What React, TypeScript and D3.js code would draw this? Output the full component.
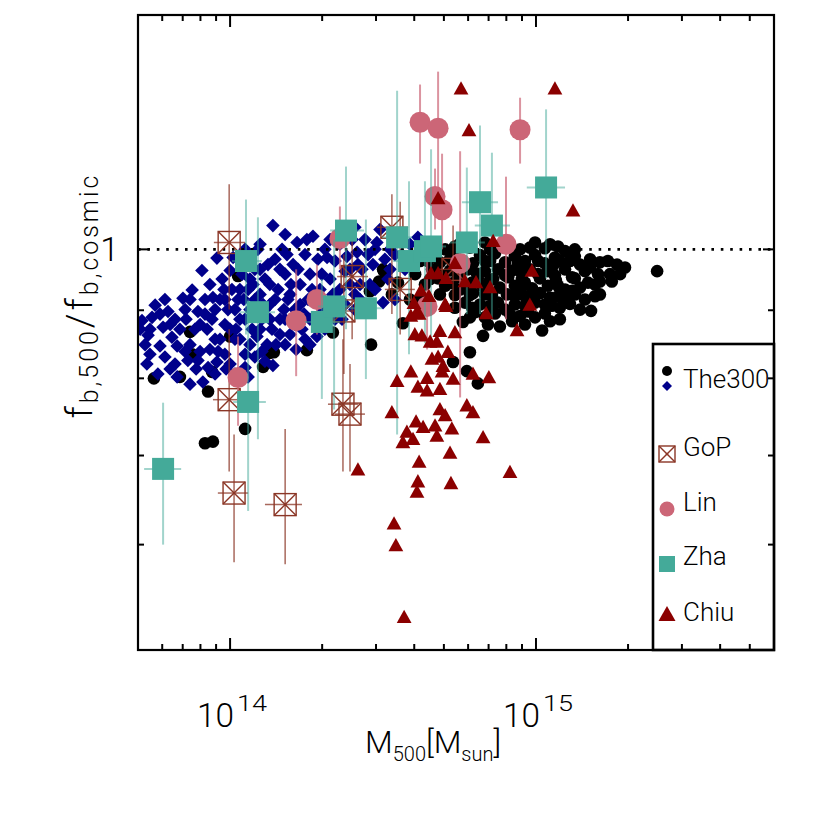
import React from 'react';
import * as d3 from 'd3';

// ---------------- DATA (log10 M500 [Msun], f_b,500 / f_b,cosmic) ----------------
const the300Circles: [number, number][] = [
  [13.751, 0.800], [13.836, 0.802], [13.876, 0.834], [13.869, 0.867], [13.928, 0.782], [13.918, 0.715],
  [13.944, 0.717], [13.941, 0.809], [14.0, 0.860], [14.026, 0.955], [14.049, 0.733], [14.108, 0.816],
  [14.13, 0.836], [14.143, 0.837], [14.251, 0.840], [14.336, 0.866], [14.461, 0.848], [14.5, 0.966],
  [14.487, 0.946], [14.549, 0.944], [14.457, 0.930], [14.503, 0.963], [14.565, 0.880], [14.588, 0.917],
  [14.621, 0.980], [14.637, 0.941],
  [14.703, 1.0], [14.784, 1.003], [14.882, 1.005], [14.948, 1.0], [15.029, 1.002], [15.095, 0.997],
  [14.67, 0.990], [14.735, 0.991], [14.817, 0.990], [14.866, 0.993], [14.931, 0.988], [14.997, 0.990],
  [15.062, 0.986], [15.127, 0.988], [15.177, 0.983],
  [14.686, 0.978], [14.758, 0.980], [14.794, 0.976], [14.85, 0.980], [14.899, 0.978], [14.964, 0.980],
  [15.029, 0.976], [15.078, 0.980], [15.144, 0.974], [15.209, 0.978], [15.265, 0.974],
  [14.66, 0.966], [14.719, 0.964], [14.778, 0.966], [14.833, 0.963], [14.876, 0.966], [14.922, 0.964],
  [14.98, 0.966], [15.039, 0.963], [15.095, 0.966], [15.16, 0.963], [15.203, 0.958],
  [14.68, 0.951], [14.745, 0.953], [14.81, 0.951], [14.86, 0.950], [14.909, 0.953], [14.954, 0.950],
  [15.013, 0.951], [15.065, 0.948], [15.118, 0.953], [15.17, 0.944], [15.396, 0.963],
  [14.703, 0.939], [14.768, 0.936], [14.824, 0.939], [14.882, 0.936], [14.931, 0.939], [14.987, 0.935],
  [15.039, 0.939], [15.095, 0.933], [15.144, 0.936], [15.209, 0.946],
  [14.735, 0.924], [14.794, 0.927], [14.856, 0.924], [14.905, 0.925], [14.964, 0.922], [15.013, 0.927],
  [15.072, 0.922], [15.127, 0.925], [15.193, 0.922],
  [14.768, 0.912], [14.817, 0.909], [14.876, 0.912], [14.931, 0.909], [14.997, 0.912], [15.052, 0.907],
  [15.111, 0.910], [15.18, 0.899],
  [14.8, 0.897], [14.866, 0.895], [14.915, 0.894], [14.974, 0.898], [15.029, 0.895], [15.078, 0.886],
  [14.761, 0.882], [14.843, 0.878], [14.882, 0.875], [14.964, 0.878], [15.02, 0.869], [14.948, 0.891],
  [14.827, 0.861], [14.784, 0.837], [14.729, 0.823], [14.774, 0.810], [14.81, 0.793],
  [14.735, 1.005], [14.915, 1.009], [14.98, 1.003], [15.046, 1.009], [14.85, 1.0], [14.752, 0.933],
  [14.948, 0.933], [15.16, 0.917], [15.242, 0.958], [15.291, 0.969],
  [14.752, 1.010], [14.833, 1.012], [14.997, 1.012], [15.072, 1.005], [15.127, 1.0], [14.719, 0.983],
  [14.833, 0.980], [14.941, 0.976], [15.007, 0.980], [15.056, 0.973], [15.111, 0.980], [15.177, 0.969],
  [15.235, 0.980], [14.686, 0.958], [14.752, 0.961], [14.807, 0.959], [14.899, 0.956], [14.948, 0.963],
  [15.007, 0.958], [15.062, 0.956], [15.127, 0.951], [15.193, 0.941], [15.248, 0.946], [14.726, 0.943],
  [14.791, 0.944], [14.85, 0.948], [14.964, 0.944], [15.072, 0.939], [15.118, 0.931], [14.784, 0.924],
  [14.833, 0.925], [14.931, 0.922], [14.987, 0.917], [15.046, 0.920], [15.095, 0.917], [14.791, 0.904],
  [14.85, 0.907], [14.899, 0.901], [14.964, 0.907], [15.029, 0.909], [15.078, 0.904], [15.144, 0.901],
  [14.833, 0.889], [14.997, 0.889], [15.046, 0.883], [14.922, 0.883], [14.784, 0.889], [14.735, 0.904],
  [14.686, 0.925], [14.654, 0.950], [14.605, 0.958], [14.572, 0.980], [14.529, 0.925], [14.621, 0.917],
  [14.647, 0.980], [15.209, 0.925], [15.275, 0.958],
];

const the300Diamonds: [number, number][] = [
  [13.712, 0.884], [13.732, 0.862], [13.755, 0.908], [13.738, 0.834], [13.771, 0.846], [13.764, 0.806],
  [13.722, 0.848], [13.745, 0.889], [13.781, 0.874], [13.797, 0.898], [13.81, 0.859], [13.827, 0.846],
  [13.827, 0.802], [13.846, 0.919], [13.876, 0.932], [13.856, 0.886], [13.836, 0.871], [13.869, 0.848],
  [13.885, 0.871], [13.895, 0.898], [13.908, 0.964], [13.918, 0.917], [13.934, 0.941], [13.911, 0.795],
  [13.941, 0.886], [13.957, 0.985], [13.957, 0.823], [13.951, 0.856], [13.967, 0.917], [13.974, 0.950],
  [13.983, 0.878], [13.993, 0.901], [14.0, 0.964], [14.006, 0.933], [14.016, 0.856], [14.026, 0.917],
  [14.032, 0.886], [14.039, 0.958], [14.049, 0.834], [14.059, 0.933], [14.065, 0.901], [14.072, 0.871],
  [14.081, 0.966], [14.088, 0.860], [14.091, 1.0], [14.098, 0.925], [14.104, 0.886], [14.114, 0.950],
  [14.121, 0.848], [14.13, 0.909], [14.14, 1.042], [14.14, 0.818], [14.147, 0.983], [14.157, 0.933],
  [14.163, 0.886], [14.17, 1.0], [14.18, 0.958], [14.189, 0.917], [14.196, 0.863], [14.206, 0.974],
  [14.212, 0.901], [14.219, 1.012], [14.229, 0.941], [14.235, 0.871], [14.245, 0.991], [14.255, 0.917],
  [14.261, 0.958], [14.271, 1.023], [14.278, 0.886], [14.284, 0.860], [14.287, 0.983], [14.294, 0.933],
  [14.304, 0.909], [14.31, 1.0], [14.317, 0.986], [14.327, 0.950], [14.343, 0.980], [14.353, 0.917],
  [14.359, 1.009], [14.366, 0.886], [14.382, 0.988], [14.392, 0.941], [14.399, 1.017], [14.415, 0.995],
  [14.425, 0.917], [14.431, 0.966], [14.441, 1.017], [14.451, 0.991], [14.457, 0.941], [14.467, 0.974],
  [14.48, 1.012], [14.49, 1.035], [14.5, 0.912], [14.506, 0.983], [14.523, 1.0], [14.539, 0.917],
  [14.549, 1.017], [14.562, 0.991], [14.572, 0.966], [14.588, 1.009], [14.605, 0.980], [14.614, 1.021],
  [13.787, 0.830], [13.804, 0.878], [13.853, 0.901], [13.862, 0.825], [13.889, 0.813], [13.902, 0.838],
  [13.925, 0.871], [13.944, 0.920], [13.961, 0.838], [13.98, 0.933], [13.987, 0.813], [14.01, 0.986],
  [14.019, 0.871], [14.045, 0.917], [14.052, 0.974], [14.075, 0.941], [14.085, 0.894], [14.108, 0.909],
  [14.124, 0.974], [14.137, 0.871], [14.15, 0.848], [14.176, 0.901], [14.186, 0.991], [14.199, 0.941],
  [14.222, 0.966], [14.242, 0.894], [14.251, 1.017], [14.268, 0.933], [14.3, 0.958], [14.32, 0.894],
  [14.336, 0.925], [14.376, 0.963], [14.408, 0.901], [14.418, 0.974], [14.474, 1.0], [14.516, 0.950],
  [13.706, 0.871], [13.728, 0.820], [14.104, 0.838], [14.059, 0.802], [14.0, 0.820], [13.928, 0.815],
  [13.869, 0.792], [13.82, 0.82],
  [13.918, 0.894], [13.951, 0.901], [13.983, 0.917], [14.016, 0.901], [14.049, 0.886], [14.081, 0.917],
  [14.114, 0.901], [14.147, 0.917], [14.18, 0.886], [14.212, 0.878], [14.245, 0.856], [14.032, 0.856],
  [14.065, 0.848], [14.098, 0.871], [14.13, 0.886], [14.163, 0.863], [13.869, 0.917], [13.902, 0.878],
  [13.934, 0.841], [13.967, 0.856], [14.0, 0.871], [14.032, 0.933], [14.065, 0.950], [14.098, 0.966],
  [14.13, 0.941], [14.163, 0.966], [14.196, 0.925], [14.229, 0.909], [14.261, 0.886], [14.294, 0.894],
  [14.327, 0.917], [14.359, 0.933], [14.392, 0.966], [14.425, 0.941], [13.983, 0.834], [14.016, 0.806],
  [14.049, 0.815], [13.951, 0.806], [13.853, 0.838], [13.82, 0.886], [13.787, 0.917], [13.771, 0.894],
  [13.738, 0.871], [13.804, 0.813], [13.895, 0.825], [14.081, 0.830], [14.114, 0.824], [14.18, 0.848],
  [14.216, 0.841], [14.261, 0.848], [14.31, 0.871], [14.343, 0.886], [14.376, 0.909], [14.408, 0.925],
  [14.474, 0.933], [14.523, 0.966], [14.539, 0.991], [14.098, 1.009], [14.18, 1.026], [14.327, 1.017],
  [14.408, 1.039], [14.049, 1.0],
];

const gopLogM = [13.997, 14.529, 14.399, 14.372, 13.997, 14.013, 14.18, 14.369, 14.392, 14.556, 14.729];
const gopF = [1.012, 1.039, 0.954, 0.899, 0.771, 0.656, 0.643, 0.765, 0.752, 0.933, 0.966];
const gopFHi = [1.119, 1.100, 1.030, 0.991, 0.871, 0.726, 0.733, 0.856, 0.820, 1.086, 1.042];
const gopFLo = [0.901, 0.894, 0.856, 0.806, 0.681, 0.582, 0.580, 0.681, 0.681, 0.863, 0.901];
const gopMLo = [13.947, 14.48, 14.35, 14.323, 13.944, 13.96, 14.114, 14.32, 14.343, 14.506, 14.68];
const gopMHi = [14.049, 14.582, 14.451, 14.425, 14.039, 14.059, 14.235, 14.418, 14.441, 14.604, 14.778];

const linLogM = [14.026, 14.216, 14.284, 14.359, 14.621, 14.68, 14.948, 14.67, 14.693, 14.902, 14.752, 14.644];
const linF = [0.801, 0.884, 0.917, 1.019, 1.246, 1.233, 1.230, 1.096, 1.071, 1.009, 0.976, 0.906];
const linFHi = [0.860, 0.966, 0.974, 1.077, 1.330, 1.36, 1.300, 1.150, 1.180, 1.134, 1.185, 0.983];
const linFLo = [0.737, 0.803, 0.863, 0.966, 1.160, 1.09, 1.160, 1.035, 1.0, 0.886, 0.774, 0.841];

const zhaLogM = [13.781, 14.059, 14.052, 14.091, 14.30, 14.34, 14.444, 14.379, 14.546, 14.585, 14.637, 14.657, 14.774, 14.817, 14.856, 15.033];
const zhaF = [0.684, 0.768, 0.980, 0.897, 0.882, 0.906, 0.903, 1.033, 1.021, 0.980, 0.997, 1.005, 1.012, 1.085, 1.042, 1.113];
const zhaFHi = [0.767, 0.917, 1.090, 1.057, 0.950, 1.017, 1.053, 1.154, 1.316, 1.125, 1.125, 1.189, 1.152, 1.239, 1.182, 1.274];
const zhaFLo = [0.600, 0.636, 0.863, 0.720, 0.772, 0.758, 0.799, 0.871, 0.726, 0.834, 0.850, 0.850, 0.894, 0.894, 0.886, 0.951];
const zhaMLo = [13.719, 14.01, 14.006, 14.032, 14.245, 14.287, 14.392, 14.327, 14.497, 14.533, 14.588, 14.608, 14.719, 14.758, 14.8, 14.97];
const zhaMHi = [13.84, 14.117, 14.104, 14.147, 14.36, 14.392, 14.497, 14.438, 14.595, 14.637, 14.686, 14.706, 14.833, 14.876, 14.915, 15.095];

const chiu: [number, number][] = [
  [14.755, 1.32], [15.062, 1.32], [14.781, 1.228], [15.121, 1.069], [14.68, 1.092], [14.86, 1.014],
  [14.987, 0.963], [14.735, 0.976], [14.657, 0.959], [14.68, 0.959], [14.706, 0.951], [14.768, 0.946],
  [14.804, 0.944], [14.85, 0.936], [14.624, 0.931], [14.65, 0.922], [14.601, 0.911], [14.706, 0.906],
  [14.837, 0.895], [14.98, 0.908], [14.608, 0.895], [14.591, 0.891], [14.618, 0.894], [14.703, 0.909],
  [14.938, 0.869], [14.604, 0.863], [14.627, 0.861], [14.686, 0.868], [14.735, 0.866], [14.654, 0.852],
  [14.676, 0.852], [14.712, 0.837], [14.68, 0.830], [14.66, 0.827], [14.696, 0.817], [14.546, 0.796],
  [14.591, 0.809], [14.644, 0.800], [14.693, 0.809], [14.729, 0.799], [14.794, 0.806], [14.846, 0.801],
  [14.614, 0.788], [14.644, 0.783], [14.686, 0.785], [14.774, 0.763], [14.794, 0.754], [14.686, 0.758],
  [14.703, 0.750], [14.529, 0.754], [14.608, 0.742], [14.631, 0.735], [14.578, 0.729], [14.598, 0.720],
  [14.565, 0.716], [14.67, 0.737], [14.676, 0.724], [14.725, 0.733], [14.827, 0.722], [14.618, 0.692],
  [14.719, 0.703], [14.418, 0.683], [14.915, 0.680], [14.614, 0.669], [14.611, 0.657], [14.722, 0.667],
  [14.536, 0.622], [14.542, 0.599], [14.569, 0.529],
];

const xMajorTicks = [1e14, 1e15];
const xMajorExp = ['14', '15'];
const xMinorTicks = [6e13, 7e13, 8e13, 9e13, 2e14, 3e14, 4e14, 5e14, 6e14, 7e14, 8e14, 9e14, 2e15, 3e15, 4e15, 5e15];
const yMajorTicks = [1];
const yMinorTicks = [0.6, 0.7, 0.8, 0.9];
const legendLabels = ['The300', 'GoP', 'Lin', 'Zha', 'Chiu'];

// ---------------- LAYOUT / STYLE ----------------
const W = 814, H = 814;
const L = 138, R = 774, T = 15, B = 650;
const FONT = 'Roboto, "Open Sans", sans-serif';
const NAVY = '#00008B';
const GOP = '#8B3626';
const LIN = '#CC6677';
const ZHA = '#44AA99';
const CHIU = '#8B0000';

const x = d3.scaleLog().domain([5e13, 6e15]).range([L, R]);
const y = d3.scaleLog().domain([0.5, 1.5]).range([B, T]);
const px = (lm: number) => x(Math.pow(10, lm));

const diamondPath = (s: number) => `M0,${-s}L${s},0L0,${s}L${-s},0Z`;
const triPath = 'M0,-7.6L7.4,5.7L-7.4,5.7Z';

function GopMarker({ cx, cy, h }: { cx: number; cy: number; h: number }) {
  return (
    <g transform={`translate(${cx},${cy})`} stroke={GOP} strokeWidth={1.4} fill="none">
      <rect x={-h} y={-h} width={2 * h} height={2 * h} />
      <line x1={-h} y1={-h} x2={h} y2={h} />
      <line x1={-h} y1={h} x2={h} y2={-h} />
      <circle r={1.3} fill={GOP} stroke="none" />
    </g>
  );
}

export default function App() {
  const tickW = 2;
  return (
    <svg width={W} height={H} style={{ position: 'absolute', left: 0, top: 0, background: '#fff' }}
      fontFamily={FONT} fontWeight={300}>
      <rect x={0} y={0} width={W} height={H} fill="#fff" />
      <defs>
        <clipPath id="plot"><rect x={L} y={T} width={R - L} height={B - T} /></clipPath>
      </defs>

      <g clipPath="url(#plot)">
        {/* The300 */}
        {the300Circles.map((d, i) => (
          <circle key={'c' + i} cx={px(d[0])} cy={y(d[1])} r={6.3} fill="#000" />
        ))}
        {the300Diamonds.map((d, i) => (
          <path key={'d' + i} d={diamondPath(6.8)} transform={`translate(${px(d[0])},${y(d[1])})`} fill={NAVY} />
        ))}

        {/* f = 1 */}
        <line x1={L} x2={R} y1={y(1)} y2={y(1)} stroke="#000" strokeWidth={2.6}
          strokeDasharray="2.6 6.8" strokeLinecap="butt" />

        {/* GoP */}
        {gopLogM.map((m, i) => (
          <g key={'ge' + i} stroke={GOP} strokeOpacity={0.75} strokeWidth={1.5}>
            <line x1={px(m)} x2={px(m)} y1={y(gopFHi[i])} y2={y(gopFLo[i])} />
            <line x1={px(gopMLo[i])} x2={px(gopMHi[i])} y1={y(gopF[i])} y2={y(gopF[i])} />
          </g>
        ))}
        {gopLogM.map((m, i) => (
          <GopMarker key={'g' + i} cx={px(m)} cy={y(gopF[i])} h={11} />
        ))}

        {/* Lin */}
        {linLogM.map((m, i) => (
          <line key={'le' + i} x1={px(m)} x2={px(m)} y1={y(linFHi[i])} y2={y(linFLo[i])}
            stroke={LIN} strokeOpacity={0.7} strokeWidth={2} />
        ))}
        {linLogM.map((m, i) => (
          <circle key={'l' + i} cx={px(m)} cy={y(linF[i])} r={10.5} fill={LIN} />
        ))}

        {/* Zha */}
        {zhaLogM.map((m, i) => (
          <g key={'ze' + i} stroke={ZHA} strokeOpacity={0.5} strokeWidth={2}>
            <line x1={px(m)} x2={px(m)} y1={y(zhaFHi[i])} y2={y(zhaFLo[i])} />
            <line x1={px(zhaMLo[i])} x2={px(zhaMHi[i])} y1={y(zhaF[i])} y2={y(zhaF[i])} />
          </g>
        ))}
        {zhaLogM.map((m, i) => (
          <rect key={'z' + i} x={px(m) - 11} y={y(zhaF[i]) - 11} width={22} height={22} fill={ZHA} />
        ))}

        {/* Chiu */}
        {chiu.map((d, i) => (
          <path key={'t' + i} d={triPath} transform={`translate(${px(d[0])},${y(d[1])})`} fill={CHIU} />
        ))}
      </g>

      {/* Axes ticks */}
      <g stroke="#000" strokeWidth={tickW}>
        {xMajorTicks.map((t, i) => (
          <g key={'xM' + i}>
            <line x1={x(t)} x2={x(t)} y1={B} y2={B - 12} />
            <line x1={x(t)} x2={x(t)} y1={T} y2={T + 12} />
          </g>
        ))}
        {xMinorTicks.map((t, i) => (
          <g key={'xm' + i}>
            <line x1={x(t)} x2={x(t)} y1={B} y2={B - 6} />
            <line x1={x(t)} x2={x(t)} y1={T} y2={T + 6} />
          </g>
        ))}
        {yMajorTicks.map((t, i) => (
          <g key={'yM' + i}>
            <line x1={L} x2={L + 11} y1={y(t)} y2={y(t)} />
            <line x1={R} x2={R - 11} y1={y(t)} y2={y(t)} />
          </g>
        ))}
        {yMinorTicks.map((t, i) => (
          <g key={'ym' + i}>
            <line x1={L} x2={L + 6} y1={y(t)} y2={y(t)} />
            <line x1={R} x2={R - 6} y1={y(t)} y2={y(t)} />
          </g>
        ))}
      </g>

      {/* Frame */}
      <rect x={L} y={T} width={R - L} height={B - T} fill="none" stroke="#000" strokeWidth={2.2} />

      {/* Tick labels */}
      {xMajorTicks.map((t, i) => (
        <g key={'xl' + i}>
          <text x={x(t) - 33} y={727} fontSize={33} fill="#000" textLength={37} lengthAdjust="spacingAndGlyphs">10</text>
          <text x={x(t) + 7} y={711} fontSize={22} fill="#000" textLength={30} lengthAdjust="spacingAndGlyphs">{xMajorExp[i]}</text>
        </g>
      ))}
      {yMajorTicks.map((t, i) => (
        <text key={'yl' + i} x={119} y={y(t) + 12} fontSize={34} textAnchor="end" fill="#000">{String(t)}</text>
      ))}

      {/* Axis titles */}
      <text x={365} y={753} fontSize={32} fill="#000">
        M<tspan dy={8} fontSize={20}>500</tspan><tspan dy={-8} fontSize={32}>[M</tspan><tspan dy={8} fontSize={20}>sun</tspan><tspan dy={-8} fontSize={32}>]</tspan>
      </text>
      <text transform="translate(92,297) rotate(-90)" fontSize={37} textAnchor="middle" fill="#000"
        textLength={243} lengthAdjust="spacing">
        f<tspan dy={6} fontSize={25}>b,500</tspan><tspan dy={-6} fontSize={37}>/</tspan><tspan fontSize={37}>f</tspan><tspan dy={6} fontSize={25}>b,cosmic</tspan>
      </text>

      {/* Legend */}
      <g>
        <rect x={653} y={344} width={R - 653} height={B - 344} fill="none" stroke="#000" strokeWidth={2.6} />
        <circle cx={667} cy={371} r={5} fill="#000" />
        <path d={diamondPath(5)} transform="translate(667,386)" fill={NAVY} />
        <GopMarker cx={667} cy={454} h={8} />
        <circle cx={667} cy={509} r={7.5} fill={LIN} />
        <rect x={659} y={556} width={16} height={16} fill={ZHA} />
        <path d="M0,-8L8.5,7L-8.5,7Z" transform="translate(667,614)" fill={CHIU} />
        {legendLabels.map((s, i) => (
          <text key={'lg' + i} x={683} y={[388, 456, 511, 565, 621][i]} fontSize={26} fill="#000">{s}</text>
        ))}
      </g>
    </svg>
  );
}
